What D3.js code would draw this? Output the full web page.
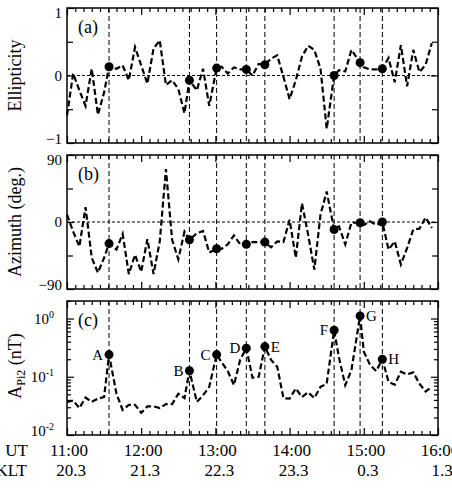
<!DOCTYPE html>
<html>
<head>
<meta charset="utf-8">
<script src="https://cdn.jsdelivr.net/npm/d3@7"></script>
<style>
  body { margin: 0; background: #fff; }
  svg text { font-family: "Liberation Serif", "Times New Roman", serif; fill: #000; }
</style>
</head>
<body>
<svg id="chart" width="452" height="488"></svg>
<script>
// sample times, minutes after 11:00 UT (5 min steps, a few nudged onto the events)
var minutes = [0, 5, 10, 15, 20, 25, 30, 34, 40, 45, 50, 55, 60, 65, 70, 75, 80, 85, 90, 95,
  99, 105, 110, 115, 121, 125, 130, 135, 140, 145, 150, 155, 160, 165, 170, 175, 180, 185, 190, 195,
  200, 205, 210, 216, 220, 225, 230, 237, 240, 245, 250, 255, 260, 265, 270, 275, 280, 285, 290, 295];

var ellipticity = [-0.59, 0.03, -0.22, -0.45, 0.10, -0.58, -0.25, 0.13, 0.10, 0.15,
  -0.07, 0.42, 0.15, -0.12, 0.40, 0.52, -0.14, -0.07, -0.20, -0.56,
  -0.07, -0.22, 0.10, -0.45, 0.11, 0.13, 0.03, 0.12, 0.09, 0.09,
  0.00, 0.17, 0.16, 0.25, 0.30, -0.02, -0.35, -0.07, 0.28, 0.44,
  0.38, 0.10, -0.79, 0.00, 0.08, 0.06, 0.38, 0.19, 0.12, 0.09,
  0.09, 0.10, 0.26, -0.10, 0.45, -0.16, 0.38, 0.05, 0.16, 0.48];

var azimuth = [10, -13, -33, 20, -48, -68, -48, -29, -37, -16,
  -70, -44, -67, -23, -70, -26, 71, -24, -50, -13,
  -24, -15, -12, -41, -36, -36, -30, -18, -30, -30,
  -27, -27, -27, -34, -26, -27, 3, -48, 25, -17,
  -64, 10, 41, -10, -6, -30, -1, -1, -4, 1,
  -4, 0, -37, -26, -57, -35, -10, -9, 6, -8];

var amplitude = [0.037, 0.039, 0.029, 0.044, 0.037, 0.042, 0.045, 0.24, 0.051, 0.027,
  0.033, 0.033, 0.024, 0.031, 0.031, 0.029, 0.034, 0.034, 0.051, 0.043,
  0.127, 0.037, 0.048, 0.067, 0.24, 0.178, 0.125, 0.072, 0.195, 0.31,
  0.096, 0.10, 0.33, 0.195, 0.149, 0.043, 0.042, 0.063, 0.045, 0.054,
  0.043, 0.067, 0.076, 0.63, 0.21, 0.072, 0.13, 1.11, 0.27, 0.16,
  0.125, 0.20, 0.082, 0.073, 0.122, 0.11, 0.119, 0.076, 0.056, 0.067];

// events: index into the series, label and which side the label sits
var eventIndex = [7, 20, 24, 29, 32, 43, 47, 51];
var eventLabels = ["A", "B", "C", "D", "E", "F", "G", "H"];
var eventSide = ["left", "left", "left", "left", "right", "left", "right", "right"];

var hourTicks = [0, 60, 120, 180, 240, 300];
var utLabels = ["11:00", "12:00", "13:00", "14:00", "15:00", "16:00"];
var kltLabels = ["20.3", "21.3", "22.3", "23.3", "0.3", "1.3"];

var svg = d3.select("#chart");

var x = d3.scaleLinear().domain([0, 300]).range([67, 438]);
var minorX = d3.range(0, 301, 60 / 9).filter(function(m) { return m % 60 > 0.01 && m % 60 < 59.99; });

var panels = [
  { id: "a", top: 8, bottom: 143, values: ellipticity, scale: d3.scaleLinear().domain([-1, 1]),
    major: [-1, 0, 1], minor: [-0.5, 0.5], title: "Ellipticity", zero: 0 },
  { id: "b", top: 155, bottom: 289, values: azimuth, scale: d3.scaleLinear().domain([-90, 90]),
    major: [-90, 0, 90], minor: [-45, 45], title: "Azimuth (deg.)", zero: 0 },
  { id: "c", top: 301, bottom: 435, values: amplitude, scale: d3.scaleLog().domain([0.01, 2.0]),
    major: [0.01, 0.1, 1], minor: [], title: null, zero: null }
];
// log minor ticks 2..9 per decade
[0.01, 0.1, 1].forEach(function(d) {
  for (var k = 2; k <= 9; k++) if (d * k <= 2.0) panels[2].minor.push(d * k);
});

// labels at the frame ends sit a little inside the tick
function labelShift(p, d) {
  if (d == p.major[0]) return -4;
  if (d == p.major[p.major.length - 1]) return p.id == "c" ? 0 : 5;
  return 0;
}

panels.forEach(function(p) {
  var y = p.scale.range([p.bottom, p.top]);
  var g = svg.append("g");

  // x ticks, inward on bottom and top
  [["bottom", p.bottom], ["top", p.top]].forEach(function(side) {
    var mk = side[0] == "bottom" ? d3.axisBottom : d3.axisTop;
    g.append("g").attr("transform", "translate(0," + side[1] + ")")
      .call(mk(x).tickValues(hourTicks).tickSize(-7).tickFormat(""))
      .call(function(a) { a.select(".domain").remove(); });
    g.append("g").attr("transform", "translate(0," + side[1] + ")")
      .call(mk(x).tickValues(minorX).tickSize(-4).tickFormat(""))
      .call(function(a) { a.select(".domain").remove(); });
  });

  // y ticks, inward on left and right
  var left = g.append("g").attr("transform", "translate(67,0)")
    .call(d3.axisLeft(y).tickValues(p.major).tickSize(-7).tickPadding(5)
      .tickFormat(function(d) { return p.id == "c" ? "" : d3.format("d")(d); }));
  left.select(".domain").remove();
  left.selectAll("text").style("font-size", "15px").style("font-family", "Liberation Serif")
    .attr("y", function(d) { return labelShift(p, d); });
  g.append("g").attr("transform", "translate(67,0)")
    .call(d3.axisLeft(y).tickValues(p.minor).tickSize(p.id == "c" ? -4 : -6).tickFormat(""))
    .select(".domain").remove();
  g.append("g").attr("transform", "translate(438,0)")
    .call(d3.axisRight(y).tickValues(p.major).tickSize(-7).tickFormat(""))
    .select(".domain").remove();
  g.append("g").attr("transform", "translate(438,0)")
    .call(d3.axisRight(y).tickValues(p.minor).tickSize(p.id == "c" ? -4 : -6).tickFormat(""))
    .select(".domain").remove();
  g.selectAll(".tick line").attr("stroke", "#000").attr("stroke-width", 1.2);

  if (p.id == "c") {
    var lab = g.selectAll("text.pow").data(p.major).enter().append("text")
      .attr("class", "pow")
      .attr("x", 54).attr("y", function(d) { return y(d) + 5 + labelShift(p, d); })
      .attr("text-anchor", "end").style("font-size", "15px");
    lab.text("10");
    lab.append("tspan").attr("dy", -6).style("font-size", "10px")
      .text(function(d) { return String(Math.round(Math.log10(d))); });
  }

  // zero reference line
  if (p.zero !== null) {
    g.append("line").attr("x1", 67).attr("x2", 438)
      .attr("y1", y(p.zero)).attr("y2", y(p.zero))
      .attr("stroke", "#000").attr("stroke-width", 1).attr("stroke-dasharray", "3,2");
  }

  // event markers
  g.selectAll("line.ev").data(eventIndex).enter().append("line")
    .attr("class", "ev")
    .attr("x1", function(i) { return x(minutes[i]); }).attr("x2", function(i) { return x(minutes[i]); })
    .attr("y1", p.top).attr("y2", p.bottom)
    .attr("stroke", "#000").attr("stroke-width", 1).attr("stroke-dasharray", "5,3");

  var line = d3.line()
    .x(function(d, i) { return x(minutes[i]); })
    .y(function(d) { return y(d); });
  g.append("path").datum(p.values)
    .attr("d", line)
    .attr("fill", "none").attr("stroke", "#000")
    .attr("stroke-width", 2.2).attr("stroke-dasharray", "6,3");

  g.selectAll("circle").data(eventIndex).enter().append("circle")
    .attr("cx", function(i) { return x(minutes[i]); })
    .attr("cy", function(i) { return y(p.values[i]); })
    .attr("r", 4.5).attr("fill", "#000");

  if (p.id == "c") {
    g.selectAll("text.ev").data(eventIndex).enter().append("text")
      .attr("class", "ev")
      .attr("x", function(i, k) { return x(minutes[i]) + (eventSide[k] == "left" ? -6 : 6); })
      .attr("y", function(i) { return y(p.values[i]) + 5; })
      .attr("text-anchor", function(i, k) { return eventSide[k] == "left" ? "end" : "start"; })
      .style("font-size", "15px")
      .text(function(i, k) { return eventLabels[k]; });
  }

  // frame
  g.append("rect").attr("x", 67).attr("y", p.top)
    .attr("width", 371).attr("height", p.bottom - p.top)
    .attr("fill", "none").attr("stroke", "#000").attr("stroke-width", 1.5);

  g.append("text").attr("x", 78).attr("y", p.top + 25)
    .style("font-size", "18px").text("(" + p.id + ")");

  var cy = (p.top + p.bottom) / 2;
  if (p.title) {
    g.append("text").attr("transform", "translate(21," + cy + ") rotate(-90)")
      .attr("text-anchor", "middle").style("font-size", "18px").text(p.title);
  } else {
    var t = g.append("text").attr("transform", "translate(21," + (cy - 2) + ") rotate(-90)")
      .attr("text-anchor", "middle").style("font-size", "18px");
    t.append("tspan").text("A");
    t.append("tspan").attr("dy", 4).style("font-size", "12px").text("Pi2");
    t.append("tspan").attr("dy", -4).text(" (nT)");
  }
});

// time axis labels
svg.append("text").attr("x", 28).attr("y", 456).attr("text-anchor", "end")
  .style("font-size", "17px").text("UT");
svg.append("text").attr("x", 27).attr("y", 476).attr("text-anchor", "end")
  .style("font-size", "17px").text("KLT");
svg.selectAll("text.ut").data(hourTicks).enter().append("text")
  .attr("class", "ut").attr("x", function(d) { return x(d) + 2; }).attr("y", 456)
  .attr("text-anchor", "middle").style("font-size", "17px")
  .text(function(d, i) { return utLabels[i]; });
svg.selectAll("text.klt").data(hourTicks).enter().append("text")
  .attr("class", "klt").attr("x", function(d) { return x(d) + 4; }).attr("y", 476)
  .attr("text-anchor", "middle").style("font-size", "17px")
  .text(function(d, i) { return kltLabels[i]; });
</script>
</body>
</html>
